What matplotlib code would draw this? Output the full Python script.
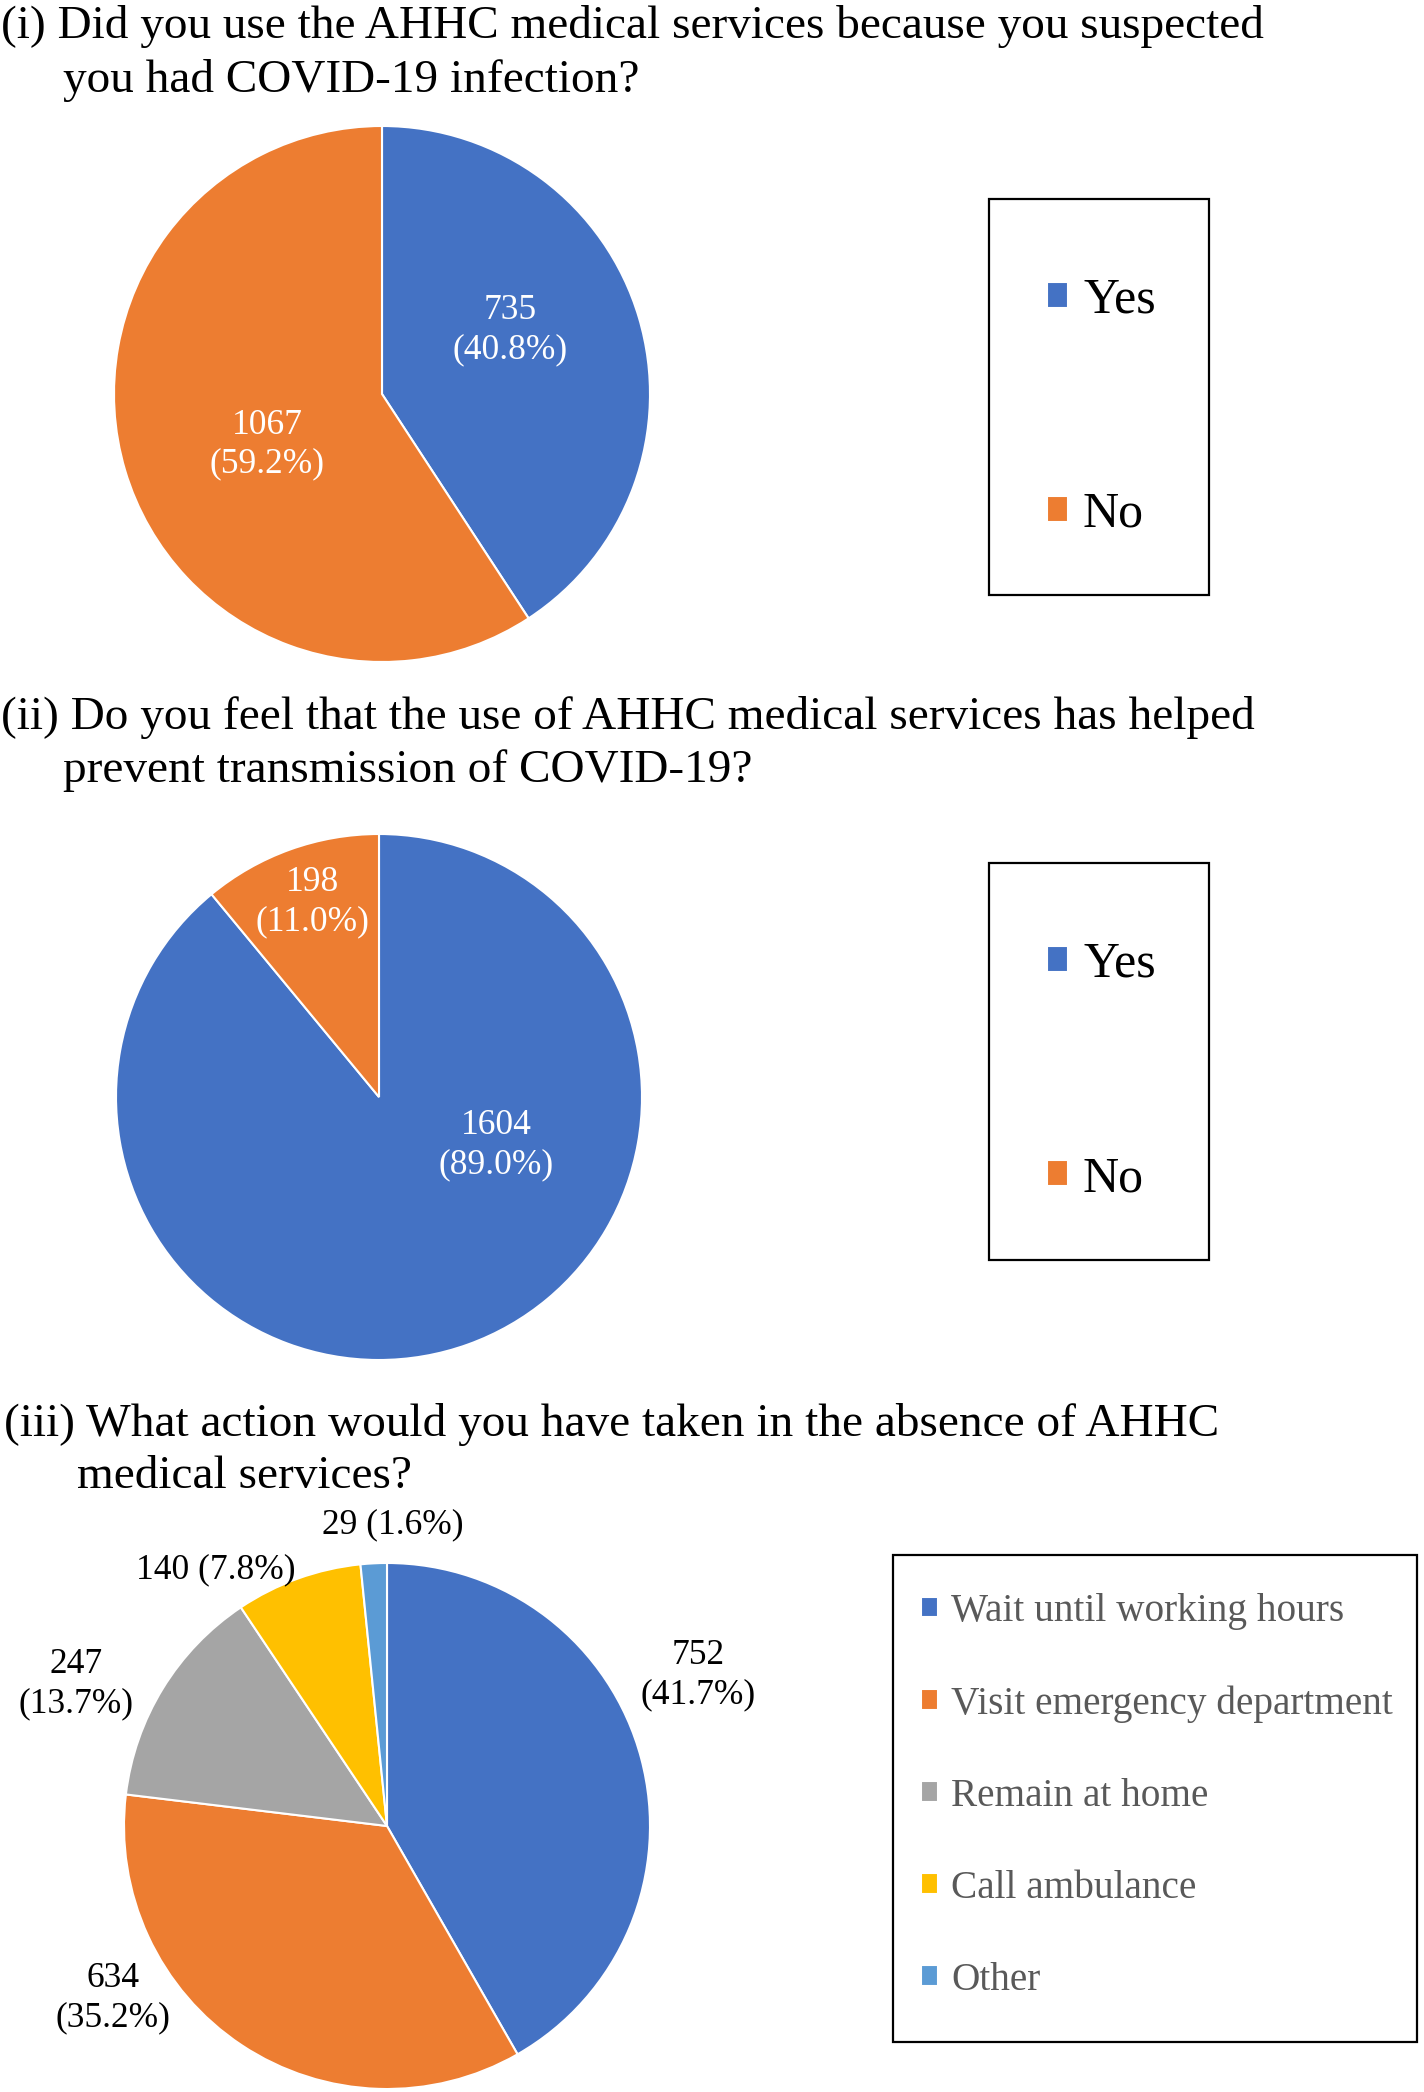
import matplotlib
matplotlib.use("Agg")
import matplotlib.pyplot as plt
from matplotlib.patches import Rectangle

plt.rcParams['font.family'] = ['Liberation Serif', 'DejaVu Serif']

# ---- data ----
q1_title = ["(i) Did you use the AHHC medical services because you suspected",
            "you had COVID-19 infection?"]
q1_labels = ["Yes", "No"]
q1_counts = [735, 1067]
q1_pcts = ["40.8%", "59.2%"]

q2_title = ["(ii) Do you feel that the use of AHHC medical services has helped",
            "prevent transmission of COVID-19?"]
q2_labels = ["Yes", "No"]
q2_counts = [1604, 198]
q2_pcts = ["89.0%", "11.0%"]

q3_title = ["(iii) What action would you have taken in the absence of AHHC",
            "medical services?"]
q3_labels = ["Wait until working hours", "Visit emergency department",
             "Remain at home", "Call ambulance", "Other"]
q3_counts = [752, 634, 247, 140, 29]
q3_pcts = ["41.7%", "35.2%", "13.7%", "7.8%", "1.6%"]

colors = ["#4472C4", "#ED7D31", "#A5A5A5", "#FFC000", "#5B9BD5"]

W, H = 1424, 2092
fig = plt.figure(figsize=(W / 100, H / 100), dpi=100)


def fx(px):
    return px / W


def fy(py):
    return 1 - py / H


def pie_axes(cx, cy, r):
    ax = fig.add_axes([fx(cx - r), fy(cy + r), 2 * r / W, 2 * r / H])
    return ax


def fix_limits(ax):
    ax.set_xlim(-1, 1)
    ax.set_ylim(-1, 1)
    ax.set_aspect('equal')
    ax.axis('off')


def titles(lines, y1, y2, x1, x2, fs=34):
    fig.text(fx(x1), fy(y1), lines[0], fontsize=fs, va='center', ha='left')
    fig.text(fx(x2), fy(y2), lines[1], fontsize=fs, va='center', ha='left')


def legend_box(wedges, labels, x0, y0, x1, y1, anchor, fs, spacing, color, tpad):
    fig.patches.append(Rectangle((fx(x0), fy(y1)), (x1 - x0) / W, (y1 - y0) / H,
                                 transform=fig.transFigure, fill=False,
                                 edgecolor='black', linewidth=1.6))
    leg = fig.legend(wedges, labels, loc='upper left',
                     bbox_to_anchor=(fx(anchor[0]), fy(anchor[1])),
                     frameon=False, fontsize=fs, borderpad=0, borderaxespad=0,
                     handlelength=0.42, handleheight=0.42, handletextpad=tpad,
                     labelspacing=spacing, labelcolor=color)
    return leg


wprops = dict(edgecolor='white', linewidth=1.5)
lab_fs = 25.5

# ---- Pie 1 ----
titles(q1_title, 27, 80, 1, 63)
ax1 = pie_axes(382, 394, 268)
w1, _ = ax1.pie(q1_counts, colors=colors[:2], startangle=90, counterclock=False,
                radius=1, wedgeprops=wprops)
fix_limits(ax1)
pos1 = [(0.478, 0.239), (-0.428, -0.189)]
for (x, y), c, p in zip(pos1, q1_counts, q1_pcts):
    ax1.text(x, y, f"{c}\n({p})", color='white', fontsize=lab_fs, ha='center',
             va='center', linespacing=1.25)
legend_box(w1, q1_labels, 989, 199, 1209, 595, (1047, 277), 36, 3.36, 'black', 0.3)

# ---- Pie 2 ----
titles(q2_title, 717, 771, 1, 63)
ax2 = pie_axes(379, 1097, 263)
w2, _ = ax2.pie(q2_counts, colors=colors[:2], startangle=90, counterclock=False,
                radius=1, wedgeprops=wprops)
fix_limits(ax2)
pos2 = [(0.447, -0.183), (-0.254, 0.741)]
for (x, y), c, p in zip(pos2, q2_counts, q2_pcts):
    ax2.text(x, y, f"{c}\n({p})", color='white', fontsize=lab_fs, ha='center',
             va='center', linespacing=1.25)
legend_box(w2, q2_labels, 989, 863, 1209, 1260, (1047, 941), 36, 3.36, 'black', 0.3)

# ---- Pie 3 ----
titles(q3_title, 1424, 1477, 4, 77)
ax3 = pie_axes(387, 1826, 263)
w3, _ = ax3.pie(q3_counts, colors=colors, startangle=90, counterclock=False,
                radius=1, wedgeprops=wprops)
fix_limits(ax3)
pos3 = [(1.183, 0.574), (-1.041, -0.655), (-1.183, 0.538), (-0.650, 0.975), (0.020, 1.147)]
sep3 = ["\n", "\n", "\n", " ", " "]
for (x, y), c, p, s in zip(pos3, q3_counts, q3_pcts, sep3):
    ax3.text(x, y, f"{c}{s}({p})", color='black', fontsize=lab_fs, ha='center',
             va='center', linespacing=1.25)
legend_box(w3, q3_labels, 893, 1555, 1417, 2042, (921, 1593), 28.3, 1.4, '#595959', 0.35)

fig.savefig("out.png", dpi=100)
